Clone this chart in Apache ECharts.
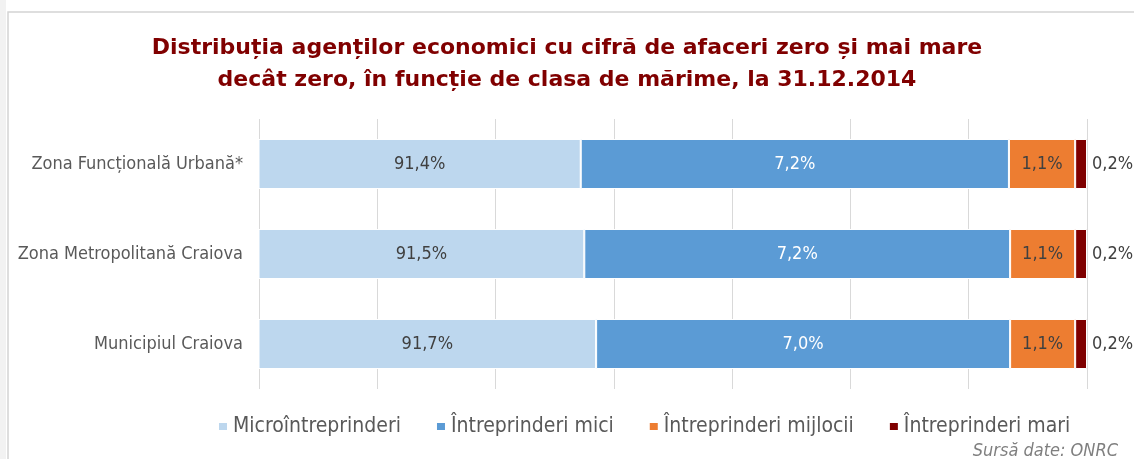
<!DOCTYPE html>
<html>
<head>
<meta charset="utf-8">
<script src="https://cdn.jsdelivr.net/npm/echarts@6/dist/echarts.min.js"></script>
<style>
  html, body { margin: 0; padding: 0; background: #fff; }
  #chart { width: 1134px; height: 459px; }
</style>
</head>
<body>
<div id="chart"></div>
<script>
// zonele, de sus in jos
const zone = ['Zona Funcțională Urbană*', 'Zona Metropolitană Craiova', 'Municipiul Craiova'];
const clase = ['Microîntreprinderi', 'Întreprinderi mici', 'Întreprinderi mijlocii', 'Întreprinderi mari'];
// procente (%)
const micro = [91.44, 91.5, 91.7];
const mici = [7.24, 7.2, 7.0];
const mijlocii = [1.12, 1.1, 1.1];
const mari = [0.2, 0.2, 0.2];
const culori = ['#BDD7EE', '#5B9BD5', '#ED7D31', '#7F0000'];
const axaMin = 86, axaMax = 100, pas = 2;

const font = '"DejaVu Sans Condensed", "Liberation Sans Narrow", "DejaVu Sans", sans-serif';
const fmt = p => p.value.toFixed(1).replace('.', ',') + '%';

function serie(name, data, i, labelColor, pos) {
  return {
    name: name,
    type: 'bar',
    stack: 'total',
    data: data,
    barWidth: 50,
    itemStyle: { color: culori[i], borderColor: '#fff', borderWidth: 1 },
    label: {
      show: true,
      position: pos || 'inside',
      formatter: fmt,
      color: labelColor,
      fontFamily: font,
      fontSize: 18
    }
  };
}

const chart = echarts.init(document.getElementById('chart'));
chart.setOption({
  backgroundColor: '#fff',
  animation: false,
  title: {
    text: 'Distribuția agenților economici cu cifră de afaceri zero și mai mare\ndecât zero, în funcție de clasa de mărime, la 31.12.2014',
    left: 'center',
    top: 27,
    textStyle: {
      color: '#800000',
      fontFamily: '"DejaVu Sans", sans-serif',
      fontWeight: 'bold',
      fontSize: 22,
      lineHeight: 32
    }
  },
  graphic: [
    { type: 'rect', shape: { x: 0, y: 0, width: 6, height: 459 }, style: { fill: '#f2f2f2' }, silent: true },
    { type: 'rect', shape: { x: 8, y: 12, width: 1140, height: 460 }, style: { fill: 'none', stroke: '#d4d4d4', lineWidth: 1.5 }, silent: true },
    {
      type: 'text', right: 16, top: 442,
      style: { text: 'Sursă date: ONRC', fill: '#7f7f7f', font: 'italic 18px ' + font }
    }
  ],
  legend: {
    data: clase,
    left: 212,
    top: 411,
    icon: 'rect',
    itemWidth: 10,
    itemHeight: 9,
    itemGap: 34,
    textStyle: { color: '#595959', fontFamily: font, fontSize: 21 }
  },
  grid: { left: 259, right: 47, top: 119, bottom: 70, containLabel: false },
  xAxis: {
    type: 'value',
    min: axaMin,
    max: axaMax,
    interval: pas,
    axisLabel: { show: false },
    axisLine: { show: false },
    axisTick: { show: false },
    splitLine: { show: true, lineStyle: { color: '#d9d9d9', width: 1 } }
  },
  yAxis: {
    type: 'category',
    data: zone,
    inverse: true,
    axisLine: { show: false },
    axisTick: { show: false },
    axisLabel: { color: '#595959', fontFamily: font, fontSize: 18, margin: 16 }
  },
  series: [
    serie(clase[0], micro, 0, '#404040'),
    serie(clase[1], mici, 1, '#ffffff'),
    serie(clase[2], mijlocii, 2, '#404040'),
    serie(clase[3], mari, 3, '#404040', 'right')
  ]
});
</script>
</body>
</html>
